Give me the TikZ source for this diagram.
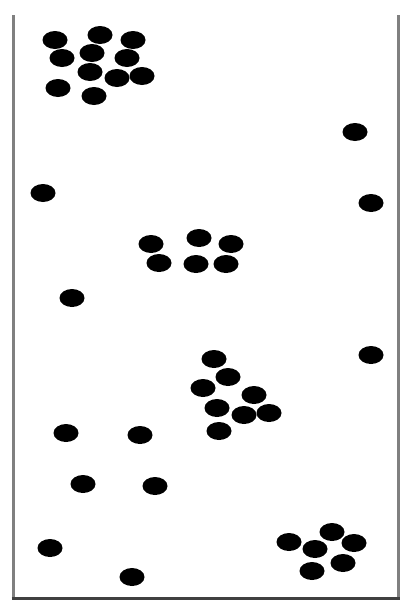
\documentclass[tikz,border=0pt]{standalone}
\begin{document}
\begin{tikzpicture}[x=1pt,y=-1pt,
  wall/.style={draw=black!50,line width=3pt},
  floor/.style={draw=black!75,line width=2.5pt},
  particle/.style={fill=black}]
\useasboundingbox (0,0) rectangle (402,600);
\draw[wall] (13,15) -- (13,598);
\draw[wall] (398,15) -- (398,598);
\draw[floor] (11.5,598.5) -- (399.5,598.5);
\foreach \px/\py in {
  55/40,100/35,133/40,62/58,92/53,127/58,90/72,117/78,142/76,58/88,94/96,
  355/132,43/193,371/203,
  151/244,199/238,231/244,159/263,196/264,226/264,72/298,
  371/355,214/359,228/377,203/388,254/395,217/408,244/415,269/413,219/431,66/433,140/435,
  83/484,155/486,50/548,132/577,
  289/542,332/532,354/543,315/549,343/563,312/571}
  \fill[particle] (\px,\py) ellipse [x radius=12.5, y radius=9];
\end{tikzpicture}
\end{document}
